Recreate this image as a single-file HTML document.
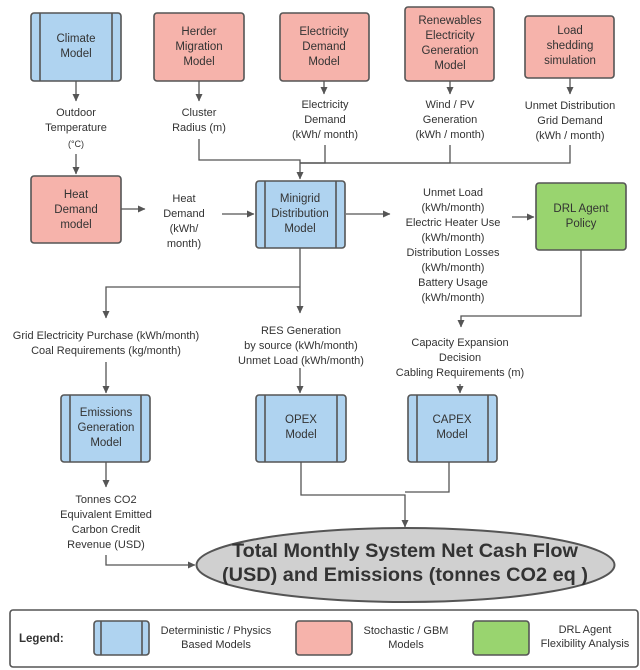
<!DOCTYPE html>
<html><head><meta charset="utf-8"><style>
html,body{margin:0;padding:0;background:#fff;}
svg{display:block;font-family:"Liberation Sans",sans-serif;}
</style></head><body>
<svg width="640" height="670" viewBox="0 0 640 670" xmlns="http://www.w3.org/2000/svg">
<defs>
<marker id="a" markerWidth="8" markerHeight="8" refX="7" refY="4" orient="auto" markerUnits="userSpaceOnUse">
<path d="M0,0.5 L7.5,4 L0,7.5 Z" fill="#555"/></marker>
</defs>
<g stroke="#555" stroke-width="1.6" fill="none">
<rect x="31" y="13" width="90" height="68" rx="3" fill="#afd3f0"/>
<line x1="40" y1="13" x2="40" y2="81"/><line x1="112" y1="13" x2="112" y2="81"/>
<rect x="154" y="13" width="90" height="68" rx="3" fill="#f6b3ab"/>
<rect x="280" y="13" width="89" height="68" rx="3" fill="#f6b3ab"/>
<rect x="405" y="7" width="89" height="74" rx="3" fill="#f6b3ab"/>
<rect x="525" y="16" width="89" height="62" rx="3" fill="#f6b3ab"/>
<rect x="31" y="176" width="90" height="67" rx="3" fill="#f6b3ab"/>
<rect x="256" y="181" width="89" height="67" rx="3" fill="#afd3f0"/>
<line x1="265" y1="181" x2="265" y2="248"/><line x1="336" y1="181" x2="336" y2="248"/>
<rect x="536" y="183" width="90" height="67" rx="3" fill="#99d46f"/>
<rect x="61" y="395" width="89" height="67" rx="3" fill="#afd3f0"/>
<line x1="70" y1="395" x2="70" y2="462"/><line x1="141" y1="395" x2="141" y2="462"/>
<rect x="256" y="395" width="90" height="67" rx="3" fill="#afd3f0"/>
<line x1="265" y1="395" x2="265" y2="462"/><line x1="337" y1="395" x2="337" y2="462"/>
<rect x="408" y="395" width="89" height="67" rx="3" fill="#afd3f0"/>
<line x1="417" y1="395" x2="417" y2="462"/><line x1="488" y1="395" x2="488" y2="462"/>
<ellipse cx="405.5" cy="565" rx="209" ry="37" fill="#d0d0d0" stroke-width="2"/>
<rect x="10" y="610" width="628" height="57" rx="3" fill="#fff"/>
<rect x="94" y="621" width="55" height="34" rx="3" fill="#afd3f0"/>
<line x1="101" y1="621" x2="101" y2="655"/><line x1="142" y1="621" x2="142" y2="655"/>
<rect x="296" y="621" width="56" height="34" rx="3" fill="#f6b3ab"/>
<rect x="473" y="621" width="56" height="34" rx="3" fill="#99d46f"/>
</g>
<g stroke="#555" stroke-width="1.3" fill="none">
<polyline points="325,145 325,163 300,163"/>
<polyline points="450,145 450,163 300,163"/>
<polyline points="570,145 570,163 300,163"/>
<polyline points="449,462 449,492 405,492"/>
</g>
<g stroke="#555" stroke-width="1.3" fill="none" marker-end="url(#a)">
<line x1="76" y1="81" x2="76" y2="101"/>
<line x1="76" y1="154" x2="76" y2="174"/>
<line x1="199" y1="81" x2="199" y2="101"/>
<line x1="324" y1="81" x2="324" y2="94"/>
<line x1="450" y1="81" x2="450" y2="94"/>
<line x1="570" y1="78" x2="570" y2="94"/>
<polyline points="199,139 199,160 300,160 300,179"/>
<line x1="121" y1="209" x2="145" y2="209"/>
<line x1="222" y1="214" x2="254" y2="214"/>
<line x1="346" y1="214" x2="390" y2="214"/>
<line x1="512" y1="217" x2="534" y2="217"/>
<line x1="300" y1="248" x2="300" y2="313"/>
<polyline points="300,287 106,287 106,318"/>
<polyline points="581,250 581,316 461,316 461,327"/>
<line x1="106" y1="362" x2="106" y2="393"/>
<line x1="300" y1="368" x2="300" y2="393"/>
<line x1="460" y1="384" x2="460" y2="393"/>
<line x1="106" y1="462" x2="106" y2="487"/>
<polyline points="106,555 106,565 195,565"/>
<polyline points="301,462 301,495 405,495 405,527"/>
</g>
<g fill="#333" font-size="11.5" text-anchor="middle">
<text x="76" y="42">Climate</text><text x="76" y="57">Model</text>
<text x="199" y="35">Herder</text><text x="199" y="50">Migration</text><text x="199" y="65">Model</text>
<text x="324" y="35">Electricity</text><text x="324" y="50">Demand</text><text x="324" y="65">Model</text>
<text x="450" y="24">Renewables</text><text x="450" y="39">Electricity</text><text x="450" y="54">Generation</text><text x="450" y="69">Model</text>
<text x="570" y="34">Load</text><text x="570" y="49">shedding</text><text x="570" y="64">simulation</text>
<text x="76" y="198">Heat</text><text x="76" y="213">Demand</text><text x="76" y="228">model</text>
<text x="300" y="202">Minigrid</text><text x="300" y="217">Distribution</text><text x="300" y="232">Model</text>
<text x="581" y="212">DRL Agent</text><text x="581" y="227">Policy</text>
<text x="106" y="416">Emissions</text><text x="106" y="431">Generation</text><text x="106" y="446">Model</text>
<text x="301" y="423">OPEX</text><text x="301" y="438">Model</text>
<text x="452" y="423">CAPEX</text><text x="452" y="438">Model</text>
</g>
<g fill="#333" font-size="11" text-anchor="middle">
<text x="76" y="116">Outdoor</text><text x="76" y="131">Temperature</text><text x="76" y="147" font-size="9">(°C)</text>
<text x="199" y="116">Cluster</text><text x="199" y="131">Radius (m)</text>
<text x="325" y="108">Electricity</text><text x="325" y="123">Demand</text><text x="325" y="138">(kWh/ month)</text>
<text x="450" y="108">Wind / PV</text><text x="450" y="123">Generation</text><text x="450" y="138">(kWh / month)</text>
<text x="570" y="109">Unmet Distribution</text><text x="570" y="124">Grid Demand</text><text x="570" y="139">(kWh / month)</text>
<text x="184" y="202">Heat</text><text x="184" y="217">Demand</text><text x="184" y="232">(kWh/</text><text x="184" y="247">month)</text>
<text x="453" y="196">Unmet Load</text><text x="453" y="211">(kWh/month)</text><text x="453" y="226">Electric Heater Use</text><text x="453" y="241">(kWh/month)</text><text x="453" y="256">Distribution Losses</text><text x="453" y="271">(kWh/month)</text><text x="453" y="286">Battery Usage</text><text x="453" y="301">(kWh/month)</text>
<text x="106" y="339">Grid Electricity Purchase (kWh/month)</text><text x="106" y="354">Coal Requirements (kg/month)</text>
<text x="301" y="334">RES Generation</text><text x="301" y="349">by source (kWh/month)</text><text x="301" y="364">Unmet Load (kWh/month)</text>
<text x="460" y="346">Capacity Expansion</text><text x="460" y="361">Decision</text><text x="460" y="376">Cabling Requirements (m)</text>
<text x="106" y="503">Tonnes CO2</text><text x="106" y="518">Equivalent Emitted</text><text x="106" y="533">Carbon Credit</text><text x="106" y="548">Revenue (USD)</text>
<text x="216" y="634">Deterministic / Physics</text><text x="216" y="648">Based Models</text>
<text x="406" y="634">Stochastic / GBM</text><text x="406" y="648">Models</text>
<text x="585" y="633">DRL Agent</text><text x="585" y="647">Flexibility Analysis</text>
</g>
<text x="19" y="642" font-size="11.5" font-weight="bold" fill="#333">Legend:</text>
<g fill="#333" font-size="19" font-weight="bold" text-anchor="middle">
<text x="405" y="557" textLength="346" lengthAdjust="spacingAndGlyphs">Total Monthly System Net Cash Flow</text>
<text x="405" y="581" textLength="366" lengthAdjust="spacingAndGlyphs">(USD) and Emissions (tonnes CO2 eq )</text>
</g>
</svg>
</body></html>
